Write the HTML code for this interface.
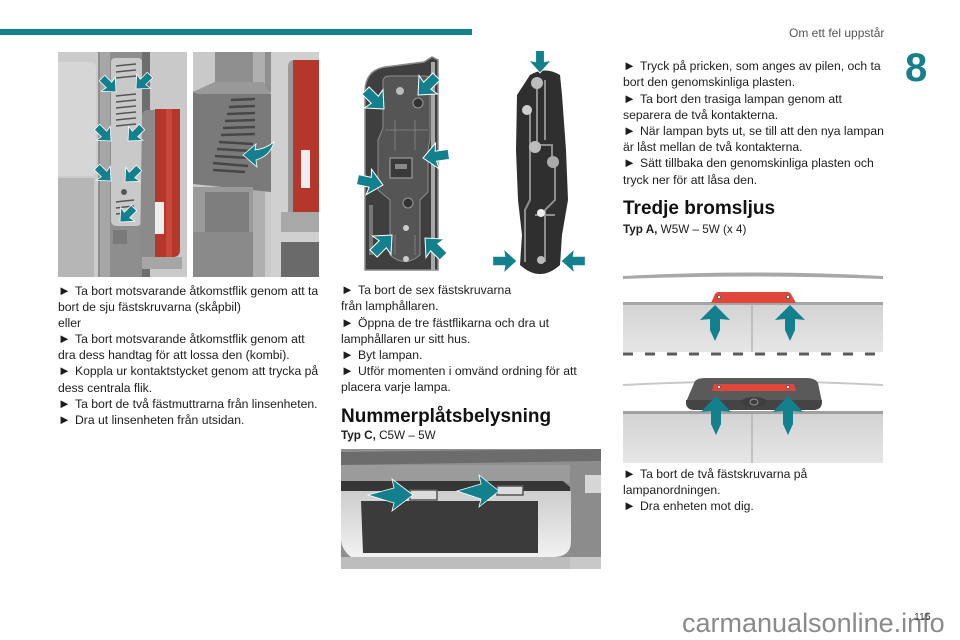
<!DOCTYPE html>
<html><head><meta charset="utf-8">
<style>
body{margin:0;width:960px;height:640px;position:relative;background:#fff;font-family:"Liberation Sans",Arial,sans-serif;color:#1d1d1d;overflow:hidden}
.t{position:absolute;font-size:12.2px;line-height:16.2px;white-space:nowrap}
.t>div{height:16.2px}
.b{display:inline-block;width:17px;font-size:13px;line-height:10px}
.h{position:absolute;font-size:19px;line-height:19px;font-weight:bold;white-space:nowrap;color:#111}
.ty{position:absolute;font-size:11.7px;line-height:14px;white-space:nowrap}
svg{position:absolute;left:0;top:0}
</style></head><body>
<svg width="960" height="640" viewBox="0 0 960 640">
<defs>
<path id="a1" d="M0,0 L-10,-9 L-9,-3.5 L-18,-3.5 L-18,3.5 L-9,3.5 L-10,9 Z" fill="#13808e" stroke="#fff" stroke-width="0.7"/>
<linearGradient id="hg" x1="0" y1="0" x2="0" y2="1"><stop offset="0" stop-color="#cdcdcd"/><stop offset="1" stop-color="#f2f2f2"/></linearGradient>
<linearGradient id="pg" x1="0" y1="0" x2="0" y2="1"><stop offset="0" stop-color="#d2d2d2"/><stop offset="1" stop-color="#e6e6e6"/></linearGradient>
<clipPath id="c1"><rect width="129" height="225"/></clipPath>
<clipPath id="c2"><rect width="126" height="225"/></clipPath>
<clipPath id="c3"><rect width="260" height="120"/></clipPath>
<clipPath id="c4"><rect width="260" height="195"/></clipPath>
</defs>
<rect x="0" y="29" width="472" height="6" fill="#15808e"/>

<!-- image 1 -->
<g transform="translate(58,52)" clip-path="url(#c1)">
<rect width="129" height="225" fill="#c6c6c6"/>
<rect x="0" y="0" width="42" height="225" fill="#cbcbcb"/>
<path d="M0,10 H32 Q38,10 38,16 V118 Q38,124 32,124 H0Z" fill="#d6d6d6"/>
<rect x="0" y="126" width="36" height="99" fill="#b6b6b6"/>
<rect x="40" y="0" width="54" height="225" fill="#8e8e8e"/>
<rect x="42" y="0" width="10" height="225" fill="#a6a6a6"/>
<path d="M53,10 Q53,6 58,6 H80 Q84,6 84,10 V168 Q84,174 78,174 H59 Q53,174 53,168Z" fill="#c9c9c9"/>
<g stroke="#555" stroke-width="1.5">
<line x1="58" y1="14" x2="78" y2="12"/><line x1="58" y1="20" x2="78" y2="18"/><line x1="58" y1="26" x2="78" y2="24"/>
<line x1="58" y1="44" x2="78" y2="42"/><line x1="58" y1="50" x2="78" y2="48"/><line x1="58" y1="56" x2="78" y2="54"/><line x1="58" y1="62" x2="78" y2="60"/><line x1="58" y1="68" x2="78" y2="66"/><line x1="58" y1="74" x2="78" y2="72"/>
<line x1="58" y1="150" x2="76" y2="148"/><line x1="58" y1="156" x2="76" y2="154"/><line x1="58" y1="162" x2="76" y2="160"/>
</g>
<circle cx="66" cy="140" r="3" fill="#555"/>
<rect x="55" y="178" width="14" height="14" fill="#7a7a7a"/>
<rect x="84" y="0" width="8" height="225" fill="#6e6e6e"/>
<rect x="92" y="0" width="37" height="225" fill="#c9c9c9"/>
<path d="M84,64 Q84,58 90,58 H98 V208 H88 Q82,208 82,202Z" fill="#8b8b8b"/>
<path d="M97,57 H122 V198 Q122,205 115,205 H97Z" fill="#b5362b"/>
<rect x="108" y="57" width="6" height="148" fill="#c9473a"/>
<rect x="97" y="150" width="9" height="32" fill="#eeeeee"/>
<rect x="84" y="205" width="40" height="12" fill="#a6a6a6"/>
<use href="#a1" transform="translate(58,40) rotate(45) scale(1.1)"/>
<use href="#a1" transform="translate(78,37) rotate(135) scale(1.1)"/>
<use href="#a1" transform="translate(53,89) rotate(45) scale(1.1)"/>
<use href="#a1" transform="translate(70,89) rotate(135) scale(1.1)"/>
<use href="#a1" transform="translate(53,129) rotate(45) scale(1.1)"/>
<use href="#a1" transform="translate(67,130) rotate(135) scale(1.1)"/>
<use href="#a1" transform="translate(62,170) rotate(135) scale(1.1)"/>
</g>

<!-- image 2 -->
<g transform="translate(193,52)" clip-path="url(#c2)">
<rect width="126" height="225" fill="#c9c9c9"/>
<rect x="22" y="0" width="75" height="40" fill="#8f8f8f"/>
<rect x="60" y="0" width="12" height="225" fill="#afafaf"/>
<path d="M0,40 L22,30 H70 L78,42 V140 L0,132Z" fill="#7a7a7a"/>
<path d="M0,40 L22,30 H70 L78,42 H5Z" fill="#999"/>
<g stroke="#474747" stroke-width="2.6">
<line x1="38" y1="48" x2="62" y2="47"/><line x1="36" y1="55" x2="62" y2="54"/><line x1="34" y1="62" x2="62" y2="61"/><line x1="32" y1="69" x2="62" y2="68"/><line x1="30" y1="76" x2="62" y2="75"/><line x1="28" y1="83" x2="62" y2="82"/><line x1="26" y1="90" x2="60" y2="92"/><line x1="24" y1="97" x2="58" y2="99"/><line x1="22" y1="104" x2="56" y2="106"/><line x1="20" y1="111" x2="55" y2="114"/><line x1="20" y1="118" x2="52" y2="120"/>
</g>
<rect x="0" y="135" width="60" height="90" fill="#9a9a9a"/>
<rect x="12" y="140" width="44" height="60" fill="#7e7e7e"/>
<rect x="0" y="180" width="60" height="45" fill="#8a8a8a"/>
<rect x="78" y="0" width="48" height="225" fill="#d0d0d0"/>
<path d="M95,15 Q95,8 102,8 H126 V165 H95Z" fill="#9a9a9a"/>
<rect x="100" y="8" width="26" height="152" fill="#b5362b"/>
<rect x="108" y="98" width="9" height="38" fill="#eeeeee"/>
<rect x="88" y="160" width="38" height="20" fill="#a8a8a8"/>
<rect x="88" y="190" width="38" height="35" fill="#6a6a6a"/>
<path d="M50,103 L63,92 L62,98 Q72,97 81,90 Q77,104 63,108 L64,115 Z" fill="#13808e" stroke="#fff" stroke-width="0.8"/>
</g>

<!-- middle lamp left -->
<path d="M365,90 Q366,70 385,67 L424,62 L432,57 L438,60 V270 H365 Z" fill="#3f3f3f" stroke="#8a8a8a" stroke-width="1.5"/>
<rect x="431" y="62" width="4" height="208" fill="#a8a8a8"/>
<path d="M383,82 Q383,76 390,76 H425 Q430,76 430,82 V140 L428,150 V192 L420,200 V255 Q405,268 390,255 V200 L378,190 V140 L383,128Z" fill="#555" stroke="#8d8d8d" stroke-width="1"/>
<rect x="390" y="158" width="22" height="20" fill="#3a3a3a" stroke="#999" stroke-width="1.2"/>
<rect x="395" y="164" width="12" height="5" fill="#888"/>
<circle cx="400" cy="91" r="4" fill="#bbb"/>
<circle cx="418" cy="103" r="5" fill="#333" stroke="#999"/>
<circle cx="408" cy="203" r="5" fill="#333" stroke="#999"/>
<circle cx="406" cy="228" r="3" fill="#ccc"/>
<circle cx="406" cy="259" r="3" fill="#ccc"/>
<g stroke="#888" stroke-width="0.8" fill="none">
<line x1="395" y1="120" x2="395" y2="150"/><line x1="415" y1="120" x2="415" y2="150"/><line x1="385" y1="130" x2="428" y2="130"/><line x1="395" y1="235" x2="395" y2="255"/><line x1="415" y1="235" x2="415" y2="255"/>
</g>
<rect x="369" y="205" width="4" height="50" fill="#777"/>
<use href="#a1" transform="translate(384,109) rotate(45) scale(1.45)"/>
<use href="#a1" transform="translate(418,95) rotate(135) scale(1.45)"/>
<use href="#a1" transform="translate(423,158) rotate(172) scale(1.45)"/>
<use href="#a1" transform="translate(383,185) rotate(12) scale(1.45)"/>
<use href="#a1" transform="translate(392,235) rotate(-45) scale(1.45)"/>
<use href="#a1" transform="translate(425,238) rotate(-135) scale(1.45)"/>

<!-- middle lamp holder right -->
<path d="M530,75 Q545,66 560,75 L562,95 L566,150 L568,200 L562,235 L560,265 Q540,283 520,265 L522,235 L518,200 L516,150 L517,95Z" fill="#2f2f2f"/>
<g stroke="#8f8f8f" stroke-width="2" fill="none">
<path d="M537,85 V145 H552 V160"/><path d="M545,80 V140"/><path d="M530,110 V200 L525,210 V262"/><path d="M555,165 V200 L545,210 V262"/><path d="M535,215 H555"/>
</g>
<circle cx="537" cy="83" r="6" fill="#bdbdbd"/>
<circle cx="527" cy="110" r="5" fill="#cfcfcf"/>
<circle cx="535" cy="147" r="6" fill="#bdbdbd"/>
<circle cx="553" cy="162" r="6" fill="#aaa"/>
<circle cx="541" cy="213" r="4" fill="#eee"/>
<circle cx="541" cy="260" r="4" fill="#bbb"/>
<use href="#a1" transform="translate(540,73) rotate(90) scale(1.25)"/>
<use href="#a1" transform="translate(517,261) scale(1.35)"/>
<use href="#a1" transform="translate(561,261) rotate(180) scale(1.35)"/>

<!-- number plate image -->
<g transform="translate(341,449)" clip-path="url(#c3)">
<rect width="260" height="120" fill="#8f8f8f"/>
<path d="M0,3 L260,0 V12 L0,16Z" fill="#6c6c6c"/>
<rect x="0" y="16" width="260" height="18" fill="#9b9b9b"/>
<rect x="229" y="14" width="31" height="106" fill="#8c8c8c"/>
<rect x="244" y="26" width="16" height="18" fill="#d6d6d6"/>
<path d="M0,32 H222 L229,38 V44 H0Z" fill="#363636"/>
<path d="M0,42 H230 V92 Q230,108 212,108 H10 Q0,100 0,90Z" fill="url(#hg)"/>
<path d="M20,52 H197 V104 H22Z" fill="#3b3b3b"/>
<rect x="0" y="108" width="260" height="12" fill="#bdbdbd"/>
<rect x="229" y="108" width="31" height="12" fill="#c8c8c8"/>
<rect x="69" y="41" width="27" height="10" fill="#dcdcdc" stroke="#555" stroke-width="1.5"/>
<rect x="156" y="37" width="26" height="9" fill="#dcdcdc" stroke="#555" stroke-width="1.5"/>
<path d="M72,46 L51,30 L53,39 L27,46 L53,54 L51,62Z" fill="#13808e" stroke="#fff" stroke-width="0.8"/>
<path d="M158,42 L138,26 L140,35 L116,42 L140,50 L138,58Z" fill="#13808e" stroke="#fff" stroke-width="0.8"/>
</g>

<!-- right image -->
<g transform="translate(623,268)" clip-path="url(#c4)">
<rect width="260" height="195" fill="#fff"/>
<path d="M0,8 Q130,1 260,8 V11 Q130,6 0,11Z" fill="#a8a8a8"/>
<rect x="0" y="34" width="260" height="50" fill="url(#pg)"/>
<rect x="0" y="34" width="260" height="3" fill="#a5a5a5"/>
<line x1="129" y1="37" x2="129" y2="84" stroke="#a0a0a0" stroke-width="1"/>
<path d="M88,35 L92,26 Q93,24 96,24 H164 Q167,24 168,26 L173,35Z" fill="#e0473a"/>
<circle cx="96" cy="29" r="1.6" fill="#fff" stroke="#555" stroke-width="0.8"/>
<circle cx="165" cy="29" r="1.6" fill="#fff" stroke="#555" stroke-width="0.8"/>
<line x1="0" y1="86" x2="260" y2="86" stroke="#5a5a5a" stroke-width="3" stroke-dasharray="10 12"/>
<path d="M0,117 Q130,110 260,117" stroke="#c8c8c8" stroke-width="2" fill="none"/>
<rect x="0" y="144" width="260" height="51" fill="url(#pg)"/>
<rect x="0" y="143" width="260" height="3" fill="#a0a0a0"/>
<line x1="129" y1="146" x2="129" y2="195" stroke="#a0a0a0" stroke-width="1"/>
<path d="M72,113 Q75,110 82,110 H184 Q192,110 195,115 L199,134 Q199,142 190,142 H72 Q63,142 63,134Z" fill="#5a5a5a"/>
<path d="M63,132 H199 Q199,142 190,142 H72 Q63,142 63,134Z" fill="#444"/>
<path d="M89,123 L91,116 H171 L173,123Z" fill="#e0473a"/>
<circle cx="96" cy="119" r="1.5" fill="#fff" stroke="#555" stroke-width="0.7"/>
<circle cx="165" cy="119" r="1.5" fill="#fff" stroke="#555" stroke-width="0.7"/>
<ellipse cx="131" cy="134" rx="13" ry="5" fill="#3e3e3e"/>
<ellipse cx="131" cy="134" rx="4" ry="3" fill="none" stroke="#9a9a9a" stroke-width="1"/>
<path d="M92,37 L107,52 L97,51 L97,62 L92,73 L87,62 L87,51 L77,52Z" fill="#13808e"/>
<path d="M167,37 L182,52 L172,51 L172,62 L167,73 L162,62 L162,51 L152,52Z" fill="#13808e"/>
<path d="M93,128 L108,144 L98,143 L98,156 L93,167 L88,156 L88,143 L78,144Z" fill="#13808e"/>
<path d="M165,128 L180,144 L170,143 L170,156 L165,167 L160,156 L160,143 L150,144Z" fill="#13808e"/>
</g>
</svg>

<div style="position:absolute;left:789px;top:25.5px;font-size:12px;line-height:14px;color:#555;white-space:nowrap">Om ett fel uppstår</div>
<div style="position:absolute;left:905px;top:48px;font-size:40px;line-height:40px;font-weight:bold;color:#177e8b">8</div>

<div class="t" style="left:58px;top:282.5px">
<div><span class="b">►</span>Ta bort motsvarande åtkomstflik genom att ta</div>
<div>bort de sju fästskruvarna (skåpbil)</div>
<div>eller</div>
<div><span class="b">►</span>Ta bort motsvarande åtkomstflik genom att</div>
<div>dra dess handtag för att lossa den (kombi).</div>
<div><span class="b">►</span>Koppla ur kontaktstycket genom att trycka på</div>
<div>dess centrala flik.</div>
<div><span class="b">►</span>Ta bort de två fästmuttrarna från linsenheten.</div>
<div><span class="b">►</span>Dra ut linsenheten från utsidan.</div>
</div>

<div class="t" style="left:341px;top:282.2px">
<div><span class="b">►</span>Ta bort de sex fästskruvarna</div>
<div>från lamphållaren.</div>
<div><span class="b">►</span>Öppna de tre fästflikarna och dra ut</div>
<div>lamphållaren ur sitt hus.</div>
<div><span class="b">►</span>Byt lampan.</div>
<div><span class="b">►</span>Utför momenten i omvänd ordning för att</div>
<div>placera varje lampa.</div>
</div>

<div class="h" style="left:341px;top:407px">Nummerplåtsbelysning</div>
<div class="ty" style="left:341px;top:428.7px"><b>Typ C,</b> C5W – 5W</div>

<div class="t" style="left:623px;top:58.2px">
<div><span class="b">►</span>Tryck på pricken, som anges av pilen, och ta</div>
<div>bort den genomskinliga plasten.</div>
<div><span class="b">►</span>Ta bort den trasiga lampan genom att</div>
<div>separera de två kontakterna.</div>
<div><span class="b">►</span>När lampan byts ut, se till att den nya lampan</div>
<div>är låst mellan de två kontakterna.</div>
<div><span class="b">►</span>Sätt tillbaka den genomskinliga plasten och</div>
<div>tryck ner för att låsa den.</div>
</div>

<div class="h" style="left:623px;top:199px">Tredje bromsljus</div>
<div class="ty" style="left:623px;top:222.7px"><b>Typ A,</b> W5W – 5W (x 4)</div>

<div class="t" style="left:623px;top:465.5px">
<div><span class="b">►</span>Ta bort de två fästskruvarna på</div>
<div>lampanordningen.</div>
<div><span class="b">►</span>Dra enheten mot dig.</div>
</div>

<div style="position:absolute;left:682px;top:610px;font-size:27px;line-height:27px;color:#8a8a8a;white-space:nowrap">carmanualsonline.info</div>
<div style="position:absolute;left:914px;top:611px;font-size:10.5px;line-height:12px;color:#444">115</div>
</body></html>
